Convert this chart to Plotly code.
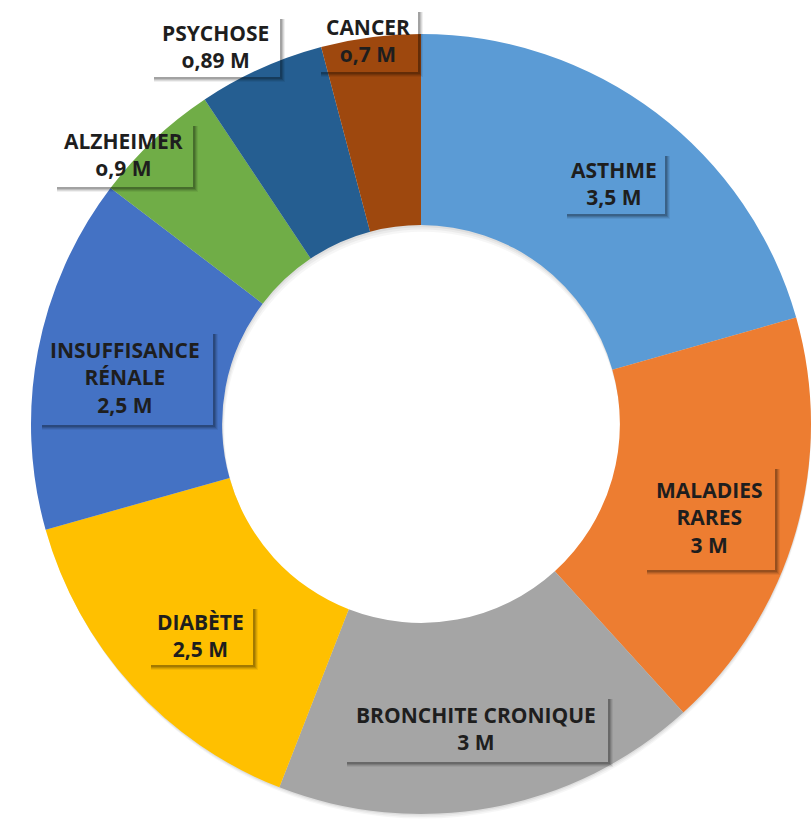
import plotly.graph_objects as go

# ---- data ----
categories = ["ASTHME", "MALADIES RARES", "BRONCHITE CRONIQUE", "DIABÈTE",
              "INSUFFISANCE RÉNALE", "ALZHEIMER", "PSYCHOSE", "CANCER"]
values = [3.5, 3, 3, 2.5, 2.5, 0.9, 0.89, 0.7]
value_labels = ["3,5 M", "3 M", "3 M", "2,5 M", "2,5 M", "o,9 M", "o,89 M", "o,7 M"]
label_lines = ["ASTHME", "MALADIES<br>RARES", "BRONCHITE CRONIQUE", "DIABÈTE",
               "INSUFFISANCE<br>RÉNALE", "ALZHEIMER", "PSYCHOSE", "CANCER"]
colors = ["#5B9BD5", "#ED7D31", "#A5A5A5", "#FFC000",
          "#4472C4", "#70AD47", "#255E91", "#9E480E"]

W, H = 811, 829
cx, cy, R = 421, 424, 390

def px_x(x):
    return x / W

def px_y(y):
    return 1 - y / H

fig = go.Figure()

# soft shadow behind the ring
for off, a in [(6, 0.035), (4, 0.045), (2, 0.055)]:
    fig.add_trace(go.Pie(
        values=[1], labels=["s"], hole=0.51, sort=False,
        marker=dict(colors=[f"rgba(0,0,0,{a})"], line=dict(width=0)),
        textinfo="none", hoverinfo="skip", showlegend=False,
        domain=dict(x=[px_x(cx - R + off * 0.5), min(1, px_x(cx + R + off * 0.5))],
                    y=[max(0, px_y(cy + R + off)), px_y(cy - R + off)]),
    ))

fig.add_trace(go.Pie(
    labels=categories, values=values, hole=0.51, sort=False,
    direction="clockwise", rotation=0,
    marker=dict(colors=colors, line=dict(width=0)),
    textinfo="none", showlegend=False,
    domain=dict(x=[px_x(cx - R), min(1, px_x(cx + R))],
                y=[max(0, px_y(cy + R)), px_y(cy - R)]),
))

# label boxes (pixel boxes: x0, y0, x1, y1)
boxes = [
    (563, 152, 665, 214),
    (643, 465, 775, 570),
    (343, 695, 608, 762),
    (147, 605, 253, 665),
    (38, 330, 213, 425),
    (53, 122, 193, 187),
    (150, 15, 280, 77),
    (317, 8, 418, 72),
]

shapes = []
annotations = []
for (x0, y0, x1, y1), lab, val in zip(boxes, label_lines, value_labels):
    # soft drop shadow (right and bottom)
    for d, a in [(5, 0.06), (4, 0.09), (3, 0.12), (2, 0.15)]:
        shapes.append(dict(type="rect", xref="paper", yref="paper", layer="above",
                           x0=px_x(x1), x1=px_x(x1 + d),
                           y0=px_y(y1 + d), y1=px_y(y0 + 4),
                           fillcolor=f"rgba(0,0,0,{a})", line=dict(width=0)))
        shapes.append(dict(type="rect", xref="paper", yref="paper", layer="above",
                           x0=px_x(x0 + 4), x1=px_x(x1),
                           y0=px_y(y1 + d), y1=px_y(y1),
                           fillcolor=f"rgba(0,0,0,{a})", line=dict(width=0)))
    annotations.append(dict(
        xref="paper", yref="paper",
        x=px_x((x0 + x1) / 2), y=px_y((y0 + y1) / 2),
        xanchor="center", yanchor="middle",
        text=f"{lab}<br>{val}", showarrow=False, align="center",
        font=dict(family="Open Sans", size=21, color="#1e1e1e", weight="bold"),
    ))

fig.update_layout(
    width=W, height=H, margin=dict(l=0, r=0, t=0, b=0),
    paper_bgcolor="white", plot_bgcolor="white",
    shapes=shapes, annotations=annotations,
)

fig.write_html(
    "out.html",
    config={"displayModeBar": False},
    post_script="document.body.style.margin='0';document.body.style.overflow='hidden';",
)
